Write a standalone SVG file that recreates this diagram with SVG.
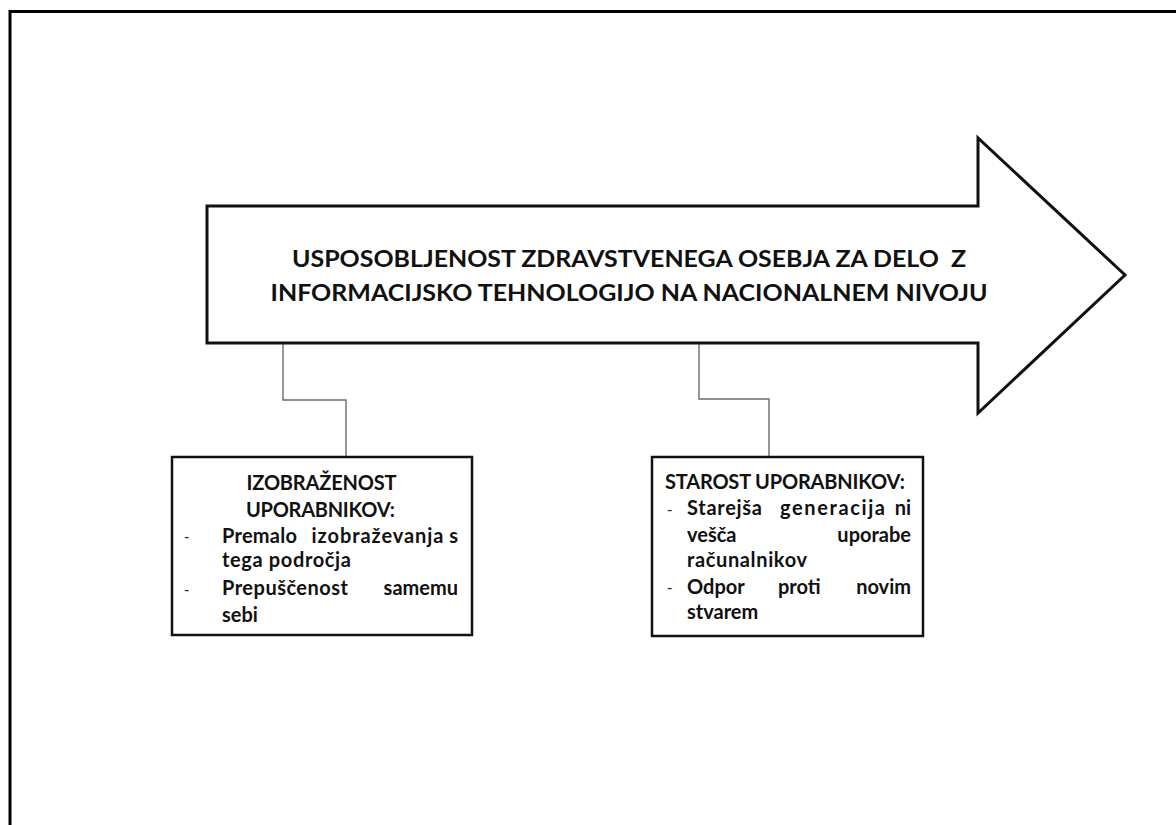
<svg xmlns="http://www.w3.org/2000/svg" width="1176" height="825" viewBox="0 0 1176 825">
  <style>
    .frame { fill: none; stroke: #000; stroke-width: 3; }
    .shape { fill: #fff; stroke: #111; stroke-width: 3; stroke-linejoin: miter; }
    .box { fill: #fff; stroke: #111; stroke-width: 2.5; }
    .link { fill: none; stroke: #6b6b6b; stroke-width: 1.4; }
    .t { font-family: Lato, "Open Sans", "Liberation Sans", sans-serif; font-weight: bold; fill: #111; }
    .main { font-size: 23px; white-space: pre; }
    .body { font-size: 20px; }
    .dash { font-family: "Liberation Sans", sans-serif; font-size: 16px; fill: #333; }
  </style>
  <rect width="1176" height="825" fill="#fff"/>
  <!-- page frame, runs off the right and bottom edges -->
  <path class="frame" d="M10,830 V11.5 H1180"/>

  <!-- connectors from the arrow to the two boxes -->
  <g id="connectors">
    <path class="link" d="M283,343 V400 H346 V457"/>
    <path class="link" d="M699,343 V399 H769 V457"/>
  </g>

  <!-- main block arrow -->
  <g id="arrow">
    <polygon class="shape" points="207,206 978,206 978,138 1125,275 978,413 978,343 207,343"/>
    <text class="t main" x="629" y="267" text-anchor="middle" textLength="674" lengthAdjust="spacingAndGlyphs" xml:space="preserve">USPOSOBLJENOST ZDRAVSTVENEGA OSEBJA ZA DELO  Z</text>
    <text class="t main" x="629" y="301" text-anchor="middle" textLength="717" lengthAdjust="spacingAndGlyphs">INFORMACIJSKO TEHNOLOGIJO NA NACIONALNEM NIVOJU</text>
  </g>

  <!-- left box: education of users -->
  <g id="box-izobrazenost">
    <rect class="box" x="172" y="457" width="300" height="178"/>
    <text class="t body" x="321.5" y="490" text-anchor="middle" textLength="150" lengthAdjust="spacing">IZOBRAŽENOST</text>
    <text class="t body" x="320.5" y="516.5" text-anchor="middle" textLength="149" lengthAdjust="spacing">UPORABNIKOV:</text>
    <text class="dash" x="184" y="542">-</text>
    <text class="t body" x="222" y="542.5" textLength="75" lengthAdjust="spacing">Premalo</text>
    <text class="t body" x="311.5" y="542.5" textLength="132" lengthAdjust="spacing">izobraževanja</text>
    <text class="t body" x="458" y="542.5" text-anchor="end">s</text>
    <text class="t body" x="222" y="567" textLength="129" lengthAdjust="spacing">tega področja</text>
    <text class="dash" x="184" y="595">-</text>
    <text class="t body" x="222" y="595" textLength="126" lengthAdjust="spacing">Prepuščenost</text>
    <text class="t body" x="458" y="595" text-anchor="end">samemu</text>
    <text class="t body" x="222" y="621.5">sebi</text>
  </g>

  <!-- right box: age of users -->
  <g id="box-starost">
    <rect class="box" x="652" y="457" width="271" height="179"/>
    <text class="t body" x="665" y="489" textLength="240" lengthAdjust="spacing">STAROST UPORABNIKOV:</text>
    <text class="dash" x="667" y="515">-</text>
    <text class="t body" x="687" y="515" textLength="75" lengthAdjust="spacing">Starejša</text>
    <text class="t body" x="780" y="515" textLength="105" lengthAdjust="spacing">generacija</text>
    <text class="t body" x="911" y="515" text-anchor="end">ni</text>
    <text class="t body" x="687" y="541.5">vešča</text>
    <text class="t body" x="911" y="541.5" text-anchor="end">uporabe</text>
    <text class="t body" x="687" y="567" textLength="120" lengthAdjust="spacing">računalnikov</text>
    <text class="dash" x="667" y="593">-</text>
    <text class="t body" x="687" y="593.5">Odpor</text>
    <text class="t body" x="778" y="593.5">proti</text>
    <text class="t body" x="911" y="593.5" text-anchor="end">novim</text>
    <text class="t body" x="687" y="619">stvarem</text>
  </g>
</svg>
